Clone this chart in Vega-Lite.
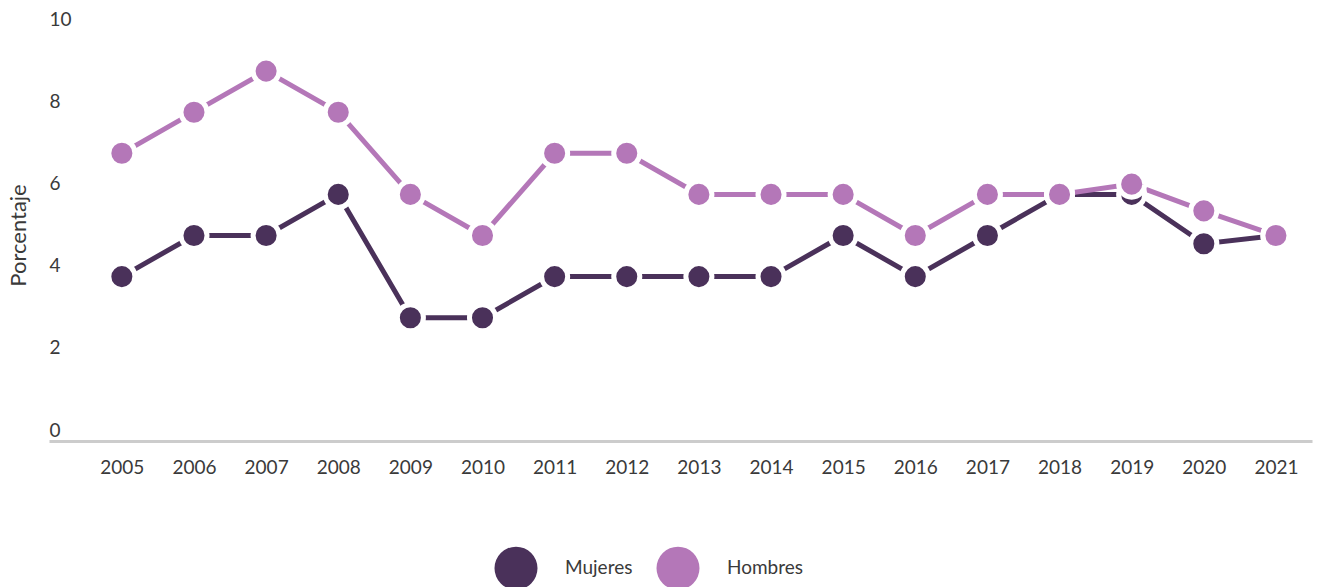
{
  "$schema": "https://vega.github.io/schema/vega-lite/v6.json",
  "width": 1263,
  "height": 411,
  "autosize": {"type": "none"},
  "padding": {"left": 49, "top": 30, "right": 6, "bottom": 146},
  "config": {
    "view": {"stroke": null},
    "font": "Lato",
    "axis": {"labelFont": "Lato", "titleFont": "Lato", "labelColor": "#3a3a3a", "titleColor": "#3a3a3a", "titleFontWeight": "normal"},
    "legend": {"labelFont": "Lato"}
  },
  "data": {
    "values": [
      {"anio": 2005, "sexo": "Mujeres", "valor": 4},
      {"anio": 2006, "sexo": "Mujeres", "valor": 5},
      {"anio": 2007, "sexo": "Mujeres", "valor": 5},
      {"anio": 2008, "sexo": "Mujeres", "valor": 6},
      {"anio": 2009, "sexo": "Mujeres", "valor": 3},
      {"anio": 2010, "sexo": "Mujeres", "valor": 3},
      {"anio": 2011, "sexo": "Mujeres", "valor": 4},
      {"anio": 2012, "sexo": "Mujeres", "valor": 4},
      {"anio": 2013, "sexo": "Mujeres", "valor": 4},
      {"anio": 2014, "sexo": "Mujeres", "valor": 4},
      {"anio": 2015, "sexo": "Mujeres", "valor": 5},
      {"anio": 2016, "sexo": "Mujeres", "valor": 4},
      {"anio": 2017, "sexo": "Mujeres", "valor": 5},
      {"anio": 2018, "sexo": "Mujeres", "valor": 6},
      {"anio": 2019, "sexo": "Mujeres", "valor": 6},
      {"anio": 2020, "sexo": "Mujeres", "valor": 4.8},
      {"anio": 2021, "sexo": "Mujeres", "valor": 5},
      {"anio": 2005, "sexo": "Hombres", "valor": 7},
      {"anio": 2006, "sexo": "Hombres", "valor": 8},
      {"anio": 2007, "sexo": "Hombres", "valor": 9},
      {"anio": 2008, "sexo": "Hombres", "valor": 8},
      {"anio": 2009, "sexo": "Hombres", "valor": 6},
      {"anio": 2010, "sexo": "Hombres", "valor": 5},
      {"anio": 2011, "sexo": "Hombres", "valor": 7},
      {"anio": 2012, "sexo": "Hombres", "valor": 7},
      {"anio": 2013, "sexo": "Hombres", "valor": 6},
      {"anio": 2014, "sexo": "Hombres", "valor": 6},
      {"anio": 2015, "sexo": "Hombres", "valor": 6},
      {"anio": 2016, "sexo": "Hombres", "valor": 5},
      {"anio": 2017, "sexo": "Hombres", "valor": 6},
      {"anio": 2018, "sexo": "Hombres", "valor": 6},
      {"anio": 2019, "sexo": "Hombres", "valor": 6.25},
      {"anio": 2020, "sexo": "Hombres", "valor": 5.6},
      {"anio": 2021, "sexo": "Hombres", "valor": 5}
    ]
  },
  "encoding": {
    "x": {
      "field": "anio",
      "type": "quantitative",
      "scale": {"domain": [2003.99, 2021.5], "nice": false, "zero": false},
      "axis": {
        "title": null,
        "values": [2005, 2006, 2007, 2008, 2009, 2010, 2011, 2012, 2013, 2014, 2015, 2016, 2017, 2018, 2019, 2020, 2021],
        "format": "d",
        "grid": false,
        "ticks": false,
        "domainColor": "#cccccc",
        "domainWidth": 3,
        "labelFontSize": 19,
        "labelPadding": 17,
        "labelFlush": false,
        "labelOverlap": false
      }
    },
    "y": {
      "field": "valor",
      "type": "quantitative",
      "scale": {"domain": [0, 10], "nice": false},
      "axis": {
        "title": "Porcentaje",
        "values": [0, 2, 4, 6, 8, 10],
        "grid": false,
        "ticks": false,
        "domain": false,
        "labelAlign": "left",
        "labelBaseline": "alphabetic",
        "labelPadding": 0,
        "labelOffset": -5,
        "labelFontSize": 19,
        "titleFontSize": 22,
        "titleX": -31,
        "titleY": 205,
        "titleAngle": -90,
        "titleBaseline": "middle",
        "titleAlign": "center"
      }
    },
    "color": {
      "field": "sexo",
      "type": "nominal",
      "scale": {"domain": ["Mujeres", "Hombres"], "range": ["#4a315a", "#b477b8"]},
      "legend": {
        "title": null,
        "orient": "none",
        "direction": "horizontal",
        "legendX": 445,
        "legendY": 516,
        "symbolType": "circle",
        "symbolSize": 1850,
        "symbolStrokeWidth": 0,
        "symbolOpacity": 1,
        "labelFontSize": 19,
        "labelColor": "#3a3a3a",
        "labelOffset": 27,
        "columnPadding": 23,
        "padding": 0
      }
    }
  },
  "layer": [
    {
      "mark": {"type": "line", "strokeWidth": 5},
      "encoding": {"order": {"field": "anio", "type": "quantitative"}}
    },
    {
      "mark": {"type": "point", "filled": true, "size": 680, "opacity": 1, "stroke": "white", "strokeWidth": 5},
      "encoding": {
        "order": {"field": "sexo", "sort": "descending"}
      }
    }
  ]
}
